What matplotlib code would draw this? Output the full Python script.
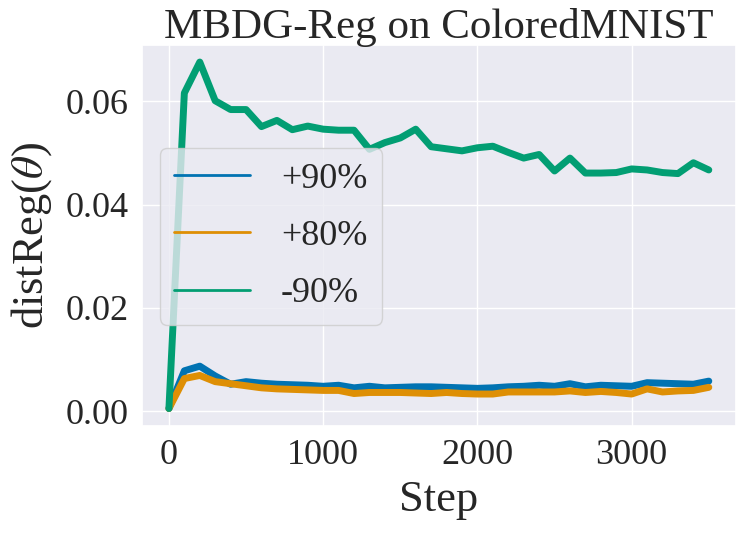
import matplotlib
matplotlib.use('Agg')
import matplotlib.pyplot as plt
import seaborn as sns
from matplotlib.lines import Line2D

# data
steps = list(range(0, 3600, 100))

plus90 = [0.0005, 0.0078, 0.0087, 0.0068, 0.0052, 0.0057, 0.0054, 0.0052, 0.0051, 0.0050,
          0.0048, 0.0050, 0.0045, 0.0048, 0.0045, 0.0046, 0.0047, 0.0047, 0.0046, 0.0045,
          0.0044, 0.0045, 0.0047, 0.0048, 0.0050, 0.0048, 0.0053, 0.0047, 0.0050, 0.0049,
          0.0048, 0.0055, 0.0054, 0.0053, 0.0052, 0.0058]

plus80 = [0.0005, 0.0063, 0.0069, 0.0057, 0.0053, 0.0049, 0.0045, 0.0043, 0.0042, 0.0041,
          0.0040, 0.0040, 0.0034, 0.0036, 0.0036, 0.0036, 0.0035, 0.0034, 0.0036, 0.0034,
          0.0033, 0.0033, 0.0037, 0.0037, 0.0037, 0.0037, 0.0039, 0.0036, 0.0038, 0.0036,
          0.0033, 0.0043, 0.0037, 0.0039, 0.0040, 0.0046]

minus90 = [0.0005, 0.0616, 0.0676, 0.0601, 0.0584, 0.0584, 0.0551, 0.0563, 0.0545, 0.0552,
           0.0546, 0.0544, 0.0544, 0.0507, 0.0520, 0.0529, 0.0546, 0.0512, 0.0508, 0.0504,
           0.0510, 0.0513, 0.0501, 0.0490, 0.0497, 0.0465, 0.0490, 0.0461, 0.0461, 0.0462,
           0.0469, 0.0467, 0.0462, 0.0460, 0.0481, 0.0467]

labels = ['+90%', '+80%', '-90%']

sns.set_theme(style='darkgrid')
plt.rcParams['font.family'] = ['Liberation Serif', 'DejaVu Serif']
plt.rcParams['mathtext.fontset'] = 'stix'

colors = sns.color_palette('colorblind')
c_blue, c_orange, c_green = colors[0], colors[1], colors[2]

fig, ax = plt.subplots(figsize=(7.47, 5.39), dpi=100)

ax.plot(steps, plus90, color=c_blue, linewidth=5)
ax.plot(steps, plus80, color=c_orange, linewidth=5)
ax.plot(steps, minus90, color=c_green, linewidth=5)

ax.set_title('MBDG-Reg on ColoredMNIST', fontsize=31, pad=5)
ax.set_xlabel('Step', fontsize=32, labelpad=6)
ax.set_ylabel(r'distReg($\theta$)', fontsize=32, labelpad=8)
ax.tick_params(labelsize=26)
ax.set_xticks([0, 1000, 2000, 3000])
ax.set_yticks([0.0, 0.02, 0.04, 0.06])
ax.set_yticklabels(['0.00', '0.02', '0.04', '0.06'])

handles = [Line2D([0], [0], color=c, linewidth=2) for c in (c_blue, c_orange, c_green)]
ax.legend(handles, labels, loc='center left', bbox_to_anchor=(0.0, 0.497),
          fontsize=26, handlelength=2.1, handletextpad=0.85, labelspacing=0.66)

fig.subplots_adjust(left=0.19, right=0.985, top=0.917, bottom=0.21)
fig.savefig('out.png', dpi=100)
